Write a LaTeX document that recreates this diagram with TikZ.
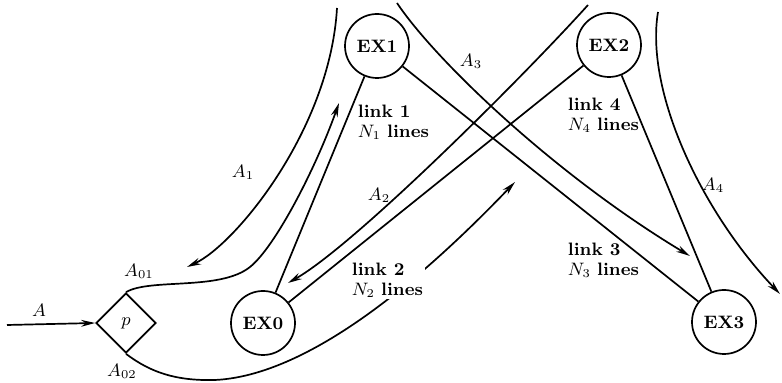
\documentclass[tikz,border=0pt]{standalone}
\usetikzlibrary{arrows.meta,shapes.geometric}

\begin{document}
\begin{tikzpicture}[x=0.5pt,y=-0.5pt,line width=0.85pt,font=\small,
  >={Stealth[length=7pt,width=3.4pt]},
  exch/.style={circle,draw,minimum size=32pt,inner sep=0pt,font=\small\bfseries},
  gate/.style={diamond,draw,minimum size=30pt,inner sep=0pt},
  linklbl/.style={anchor=west,align=left,inner sep=1pt}]
  \useasboundingbox (0,0) rectangle (782,383);
  % exchanges and the splitting point
  \node[exch] (ex1) at (377,46) {EX1};
  \node[exch] (ex2) at (609,45) {EX2};
  \node[exch] (ex0) at (263,323) {EX0};
  \node[exch] (ex3) at (724,322) {EX3};
  \node[gate] (p) at (126,323) {$p$};
  % links
  \draw (ex0) -- (ex1);
  \draw (ex0) -- (ex2);
  \draw (ex1) -- (ex3);
  \draw (ex2) -- (ex3);
  % traffic streams
  \coordinate (inA) at (7,325);
  \coordinate (endA01) at (339,103);
  \coordinate (topA1) at (337,8);
  \coordinate (endA1) at (187,267);
  \coordinate (topA2) at (588,5);
  \coordinate (endA2) at (288,283);
  \coordinate (topA3) at (397,3);
  \coordinate (endA3) at (690,256);
  \coordinate (topA4) at (658,12);
  \coordinate (endA4) at (780,294);
  \coordinate (endA02) at (515,182);
  \draw[->] (inA) -- (p.west);
  \draw[->] (p.north) .. controls (150,278) and (220,291) .. (250,267)
    .. controls (275,247) and (315,170) .. (endA01);
  \draw[->] (topA1) .. controls (330,130) and (235,245) .. (endA1);
  \draw[->] (topA2) .. controls (525,75) and (355,245) .. (endA2);
  \draw[->] (topA3) .. controls (435,60) and (555,175) .. (endA3);
  \draw[->] (topA4) .. controls (645,90) and (700,210) .. (endA4);
  \draw[->] (p.south) .. controls (150,372) and (175,381) .. (215,380)
    .. controls (320,375) and (445,255) .. (endA02);
  % labels
  \node (lA) at (39,310) {$A$};
  \node (lA01) at (139,271) {$A_{01}$};
  \node (lA02) at (122,371) {$A_{02}$};
  \node (lA1) at (243,172) {$A_1$};
  \node (lA2) at (379,195) {$A_2$};
  \node (lA3) at (471,61) {$A_3$};
  \node (lA4) at (713,185) {$A_4$};
  \node[linklbl] (l1) at (355,122) {\textbf{link 1}\\[-1pt]$N_1$ \textbf{lines}};
  \node[linklbl,fill=white] (l2) at (349,280) {\textbf{link 2}\\[-1pt]$N_2$ \textbf{lines}};
  \node[linklbl] (l3) at (565,260) {\textbf{link 3}\\[-1pt]$N_3$ \textbf{lines}};
  \node[linklbl] (l4) at (565,115) {\textbf{link 4}\\[-1pt]$N_4$ \textbf{lines}};
\end{tikzpicture}
\end{document}
